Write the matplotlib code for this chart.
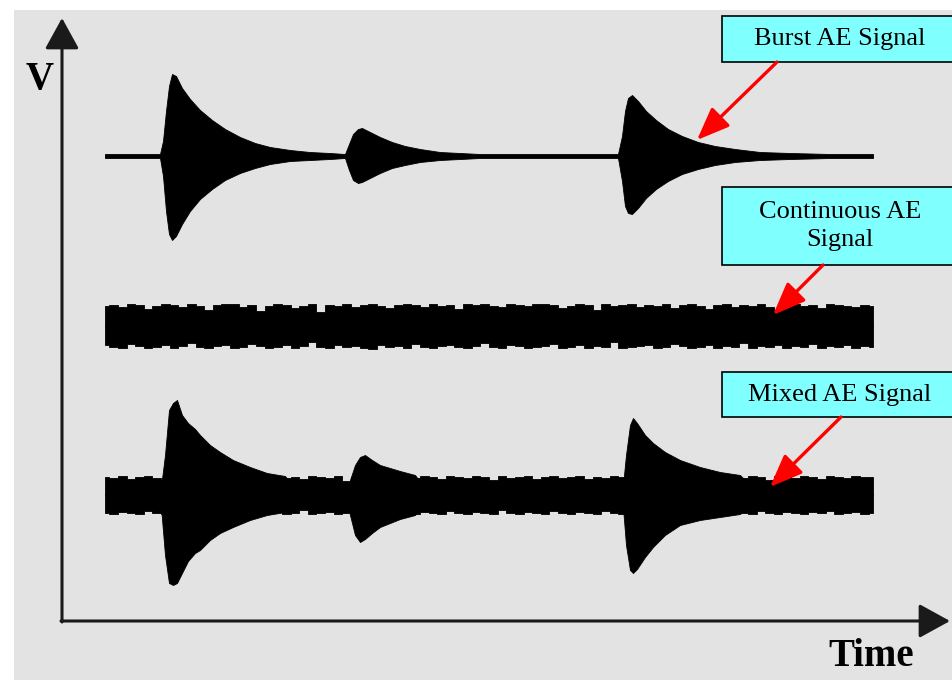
import numpy as np
import matplotlib.pyplot as plt
from matplotlib.patches import Rectangle

plt.rcParams['font.family'] = ['Liberation Serif', 'DejaVu Serif']

# time in arbitrary units, each trace sits at its own voltage offset
t_start, t_end = 4.3, 81.1
burst_level = 46.5
cont_level = 29.5
mixed_level = 12.6

# burst AE signal: envelope (upper / lower amplitude)
burst_t = [4.3, 9.8, 10.1, 10.4, 10.7, 11.0, 11.4, 12.0, 12.8, 13.8, 15.0, 16.3, 17.8, 19.3, 20.8, 22.8,
           24.8, 26.8, 28.3, 28.7, 29.1, 29.6, 30.0, 30.8, 31.8, 33.0, 34.3, 35.8, 37.8, 39.8, 41.8,
           55.6, 56.0, 56.3, 56.6, 57.0, 57.6, 58.4, 59.4, 60.6, 62.0, 63.6, 65.3, 67.3, 69.8, 72.8, 76.8, 81.1]
burst_up = [0.2, 0.2, 1.5, 4.5, 7.0, 8.2, 8.0, 6.8, 5.7, 4.6, 3.6, 2.7, 1.9, 1.3, 0.9, 0.6,
            0.4, 0.3, 0.2, 1.2, 2.2, 2.7, 2.8, 2.4, 1.9, 1.4, 1.0, 0.7, 0.4, 0.3, 0.2,
            0.2, 2.0, 4.5, 5.8, 6.1, 5.5, 4.5, 3.6, 2.7, 2.0, 1.4, 1.0, 0.7, 0.4, 0.3, 0.2, 0.2]
burst_lo = [0.2, 0.2, 2.0, 5.5, 7.8, 8.4, 8.0, 6.8, 5.5, 4.3, 3.3, 2.4, 1.7, 1.2, 0.8, 0.5,
            0.4, 0.3, 0.2, 1.4, 2.4, 2.7, 2.6, 2.2, 1.7, 1.2, 0.9, 0.6, 0.4, 0.3, 0.2,
            0.2, 2.5, 5.0, 5.7, 5.8, 5.2, 4.2, 3.3, 2.5, 1.8, 1.3, 0.9, 0.6, 0.4, 0.3, 0.2, 0.2]

# continuous AE signal: ragged band, half widths sampled evenly along time
cont_up = [2.0, 2.1, 1.9, 2.2, 2.1, 1.7, 2.0, 2.2, 2.1, 1.9, 2.2, 2.0, 1.6, 2.1, 2.2, 2.2, 1.9, 2.1, 1.5, 2.0,
           2.2, 2.1, 1.8, 2.0, 2.2, 1.4, 2.1, 2.0, 2.2, 1.9, 2.1, 2.2, 2.0, 1.8, 2.1, 2.2, 2.1, 1.9, 2.2, 2.0,
           2.1, 1.7, 2.2, 2.1, 2.2, 2.0, 1.9, 2.2, 2.1, 2.0, 2.2, 2.2, 2.1, 1.8, 2.0, 2.2, 2.1, 1.6, 2.2, 2.0,
           2.1, 2.2, 1.9, 2.1, 2.0, 2.2, 1.8, 2.1, 2.2, 2.0, 1.7, 2.1, 2.2, 1.9, 2.1, 2.0, 2.2, 1.9, 1.5, 2.1,
           2.2, 2.0, 2.1, 1.8, 2.2, 2.1, 2.0, 1.9, 2.1, 2.0]
cont_lo = [1.9, 2.1, 2.2, 1.8, 2.0, 2.2, 2.1, 1.9, 2.2, 2.0, 1.7, 2.1, 2.2, 2.0, 1.9, 2.2, 2.1, 1.8, 2.0, 2.2,
           2.1, 1.9, 2.2, 2.0, 1.6, 2.1, 2.2, 1.9, 2.1, 2.0, 2.2, 2.3, 1.9, 2.1, 2.0, 2.2, 1.8, 2.1, 2.2, 2.0,
           1.9, 2.1, 2.2, 2.0, 1.7, 2.1, 2.2, 1.9, 2.0, 2.2, 2.1, 2.0, 1.8, 2.2, 2.1, 1.9, 2.2, 2.0, 2.1, 1.6,
           2.2, 2.1, 2.0, 1.9, 2.2, 2.1, 1.8, 2.0, 2.2, 2.1, 1.9, 2.2, 2.0, 2.1, 1.7, 2.2, 2.0, 2.1, 1.9, 2.2,
           2.0, 2.1, 1.8, 2.2, 2.0, 2.1, 1.9, 2.2, 2.0, 2.1]

# mixed AE signal: noise band plus the three bursts on top
mixed_up = [1.8, 1.7, 1.9, 1.6, 1.8, 1.9, 1.7, 1.5, 1.8, 1.9, 1.7, 1.8, 1.6, 1.9, 1.8, 1.7, 1.9, 1.8, 1.5, 1.8,
            1.9, 1.7, 1.8, 1.6, 1.9, 1.8, 1.7, 1.9, 1.4, 1.8, 1.9, 1.7, 1.8, 1.9, 1.6, 1.8, 1.7, 1.9, 1.8, 1.6,
            1.9, 1.8, 1.7, 1.9, 1.8, 1.5, 1.9, 1.7, 1.8, 1.9, 1.6, 1.8, 1.9, 1.7, 1.8, 1.9, 1.6, 1.8, 1.7, 1.9,
            1.8, 1.5, 1.9, 1.8, 1.7, 1.9, 1.6, 1.8, 1.9, 1.7, 1.8, 1.9, 1.6, 1.8, 1.7, 1.9, 1.8, 1.5, 1.9, 1.8,
            1.7, 1.9, 1.8, 1.6, 1.9, 1.8, 1.7, 1.9, 1.8, 1.8]
mixed_lo = [1.8, 1.9, 1.7, 1.8, 1.9, 1.6, 1.8, 1.9, 1.7, 1.8, 1.9, 1.6, 1.8, 1.9, 1.7, 1.9, 1.8, 1.6, 1.9, 1.8,
            1.7, 1.9, 1.8, 1.5, 1.9, 1.8, 1.7, 1.9, 1.8, 1.6, 1.9, 1.8, 1.7, 1.9, 1.6, 1.8, 1.9, 1.7, 1.8, 1.9,
            1.6, 1.8, 1.9, 1.7, 1.8, 1.9, 1.5, 1.8, 1.9, 1.7, 1.8, 1.9, 1.6, 1.8, 1.9, 1.7, 1.8, 1.9, 1.6, 1.8,
            1.9, 1.7, 1.8, 1.9, 1.5, 1.8, 1.9, 1.7, 1.8, 1.9, 1.6, 1.8, 1.9, 1.7, 1.8, 1.9, 1.6, 1.8, 1.9, 1.7,
            1.8, 1.9, 1.7, 1.8, 1.6, 1.9, 1.8, 1.7, 1.9, 1.8]
mixed_burst_t = [9.8, 10.3, 10.7, 11.1, 11.5, 12.0, 12.6, 13.3, 13.8, 14.8, 15.8, 17.1, 18.8, 20.5, 22.3, 23.8,
                 28.3, 28.8, 29.3, 29.8, 30.3, 31.0, 31.8, 32.8, 33.8, 35.3, 36.8,
                 56.0, 56.4, 56.8, 57.1, 57.5, 58.3, 59.1, 60.3, 61.8, 63.8, 65.8, 67.8, 69.8]
mixed_burst_up = [0, 4.0, 8.5, 9.2, 9.5, 8.0, 7.2, 6.6, 6.0, 5.0, 4.3, 3.5, 2.8, 2.2, 1.9, 0,
                  0, 1.5, 3.0, 3.8, 4.0, 3.5, 3.0, 2.7, 2.4, 2.0, 0,
                  0, 4.0, 7.0, 7.7, 7.2, 6.0, 5.2, 4.3, 3.5, 2.8, 2.3, 2.0, 0]
mixed_burst_lo = [0, 6.0, 8.8, 9.0, 8.8, 7.8, 6.6, 5.8, 5.5, 4.5, 3.8, 3.2, 2.5, 2.0, 1.7, 0,
                  0, 2.0, 4.0, 4.7, 4.4, 3.8, 3.2, 2.8, 2.4, 2.0, 0,
                  0, 5.0, 7.5, 7.8, 7.4, 6.2, 5.2, 4.0, 3.0, 2.5, 2.2, 1.9, 0]

labels = ['Burst AE Signal', 'Continuous AE\nSignal', 'Mixed AE Signal']


def band(ax, t, level, up, lo, step=None):
    t = np.asarray(t)
    ax.fill_between(t, level, level + np.asarray(up), color='black', lw=0.6, step=step, zorder=3)
    ax.fill_between(t, level - np.asarray(lo), level, color='black', lw=0.6, step=step, zorder=3)


fig = plt.figure(figsize=(9.53, 6.80), dpi=100)
fig.patches.append(Rectangle((14 / 953, 0), 1, 670 / 680, transform=fig.transFigure,
                             facecolor='#e3e3e3', edgecolor='none', zorder=-5))

ax = fig.add_axes([0, 0, 1, 1])
ax.set_xlim(-6.2, 89.1)
ax.set_ylim(-5.9, 62.1)
ax.axis('off')

# axes with arrow heads
axis_arrow = dict(arrowstyle='-|>,head_length=0.4,head_width=0.22', mutation_scale=48,
                  color='#1a1a1a', lw=2.2, shrinkA=0, shrinkB=0)
ax.annotate('', xy=(0, 60.3), xytext=(0, -0.1), arrowprops=axis_arrow)
ax.annotate('', xy=(88.8, 0), xytext=(-0.1, 0), arrowprops=axis_arrow)
ax.text(-2.2, 54.1, 'V', fontsize=28, fontweight='bold', ha='center', va='center')
ax.text(80.9, -3.6, 'Time', fontsize=28, fontweight='bold', ha='center', va='center')

# burst
band(ax, burst_t, burst_level, burst_up, burst_lo)

# continuous
t_cu = np.linspace(t_start, t_end, len(cont_up))
t_cl = np.linspace(t_start, t_end, len(cont_lo))
band(ax, t_cu, cont_level, cont_up, [0] * len(cont_up), step='mid')
band(ax, t_cl, cont_level, [0] * len(cont_lo), cont_lo, step='mid')

# mixed
t_mu = np.linspace(t_start, t_end, len(mixed_up))
t_ml = np.linspace(t_start, t_end, len(mixed_lo))
band(ax, t_mu, mixed_level, mixed_up, [0] * len(mixed_up), step='mid')
band(ax, t_ml, mixed_level, [0] * len(mixed_lo), mixed_lo, step='mid')
band(ax, mixed_burst_t, mixed_level, mixed_burst_up, mixed_burst_lo)

# label boxes and red arrows
boxes = [(55.9, 4.6), (35.6, 7.8), (20.4, 4.5)]
arrow_from = [(71.5, 55.9), (76.1, 35.6), (77.9, 20.4)]
arrow_to = [(63.5, 48.1), (71.1, 30.6), (70.8, 13.4)]
red_arrow = dict(arrowstyle='-|>,head_length=0.5,head_width=0.2', mutation_scale=40,
                 color='red', lw=2.4, shrinkA=0, shrinkB=0)
for label, (y0, h), a, b in zip(labels, boxes, arrow_from, arrow_to):
    ax.add_patch(Rectangle((66.0, y0), 23.6, h, facecolor='#80ffff', edgecolor='black',
                           lw=1.2, zorder=4, clip_on=False))
    ax.text(77.8, y0 + h / 2, label, fontsize=19, ha='center', va='center',
            linespacing=1.4, zorder=5)
    ax.annotate('', xy=b, xytext=a, arrowprops=red_arrow, zorder=6)

plt.savefig('out.png', dpi=100)
